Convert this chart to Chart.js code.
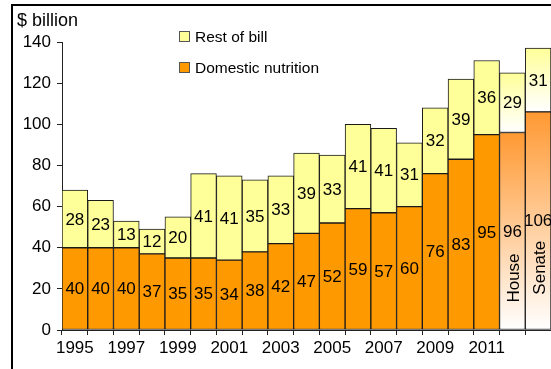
<!DOCTYPE html>
<html>
<head>
<meta charset="utf-8">
<script src="https://cdn.jsdelivr.net/npm/chart.js@4"></script>
<style>
  html, body { margin: 0; padding: 0; background: #fff; overflow: hidden; }
  #wrap { position: relative; width: 551px; height: 369px; }
  #frame { position: absolute; left: 11px; top: 4px; width: 600px; height: 400px;
           border: 2px solid #000; pointer-events: none; }
  #unit { position: absolute; left: 17px; top: 10px; font: 18px "Liberation Sans", Arial, sans-serif; color: #000; }
  .leg { position: absolute; left: 179px; font: 15.5px "Liberation Sans", Arial, sans-serif; color: #000; }
  .leg span { display: inline-block; width: 9px; height: 9px; border: 1px solid #555; margin-right: 5px; vertical-align: 0px; }
</style>
</head>
<body>
<div id="wrap">
  <canvas id="bill"></canvas>
  <div id="frame"></div>
  <div id="unit">$ billion</div>
  <div class="leg" id="legRest" style="top:28px"><span style="background:#FFFF99"></span>Rest of bill</div>
  <div class="leg" id="legDom" style="top:59px"><span style="background:#FF9900"></span>Domestic nutrition</div>
</div>
<script>
const years = ['1995', '1996', '1997', '1998', '1999', '2000', '2001', '2002', '2003',
               '2004', '2005', '2006', '2007', '2008', '2009', '2010', '2011'];
const proposals = ['House', 'Senate'];
const categories = years.concat(proposals);
const domesticNutrition = [40, 40, 40, 37, 35, 35, 34, 38, 42, 47, 52, 59, 57, 60, 76, 83, 95, 96, 106];
const restOfBill = [28, 23, 13, 12, 20, 41, 41, 35, 33, 39, 33, 41, 41, 31, 32, 39, 36, 29, 31];
const yTicks = [0, 20, 40, 60, 80, 100, 120, 140];

const FONT = '"Liberation Sans", Arial, sans-serif';

// proposal bars fade from a colour down to white
function segmentFill(solid, fadeFrom, lowVals, highVals) {
  return function(c) {
    const chart = c.chart;
    const i = c.dataIndex;
    if (i < years.length || !chart.chartArea || !chart.scales.y) return solid;
    const y = chart.scales.y;
    const lo = lowVals ? lowVals[i] : 0;
    const top = y.getPixelForValue(lo + highVals[i]);
    const bot = y.getPixelForValue(lo);
    const g = chart.ctx.createLinearGradient(0, top, 0, bot);
    g.addColorStop(0, fadeFrom);
    g.addColorStop(1, '#FFFFFF');
    return g;
  };
}

const valueLabels = {
  id: 'valueLabels',
  afterDatasetsDraw(chart) {
    const ctx = chart.ctx;
    ctx.save();
    ctx.fillStyle = '#000';
    ctx.font = '17px ' + FONT;
    ctx.textAlign = 'center';
    ctx.textBaseline = 'middle';
    chart.data.datasets.forEach((ds, di) => {
      const meta = chart.getDatasetMeta(di);
      meta.data.forEach((bar, i) => {
        const cy = (bar.y + bar.base) / 2;
        ctx.fillText(String(ds.data[i]), bar.x, cy + 1);
        if (di === 0 && i >= years.length) {
          ctx.save();
          ctx.translate(bar.x + 2, cy + 47);
          ctx.rotate(-Math.PI / 2);
          ctx.fillText(categories[i], 0, 0);
          ctx.restore();
        }
      });
    });
    ctx.restore();
  }
};

new Chart(document.getElementById('bill'), {
  type: 'bar',
  data: {
    labels: categories,
    datasets: [
      {
        label: 'Domestic nutrition',
        data: domesticNutrition,
        backgroundColor: segmentFill('#FF9900', '#FF9933', null, domesticNutrition),
        borderColor: '#1a1a1a',
        borderWidth: 1,
        borderSkipped: false,
        barPercentage: 1,
        categoryPercentage: 1
      },
      {
        label: 'Rest of bill',
        data: restOfBill,
        backgroundColor: segmentFill('#FFFF99', '#FFFF99', domesticNutrition, restOfBill),
        borderColor: '#1a1a1a',
        borderWidth: 1,
        borderSkipped: false,
        barPercentage: 1,
        categoryPercentage: 1
      }
    ]
  },
  options: {
    responsive: true,
    maintainAspectRatio: false,
    animation: false,
    layout: { padding: { top: 42, left: 0, right: 0, bottom: 0 } },
    plugins: { legend: { display: false }, tooltip: { enabled: false } },
    scales: {
      x: {
        stacked: true,
        afterFit(s) { s.height = 39; },
        grid: { offset: true, drawOnChartArea: false, tickLength: 5, color: '#222' },
        border: { color: '#222', width: 1 },
        ticks: {
          autoSkip: false,
          maxRotation: 0,
          padding: 3,
          color: '#000',
          font: { family: FONT, size: 17 },
          callback: (v, i) => (i < years.length && i % 2 === 0) ? categories[i] : ''
        }
      },
      y: {
        stacked: true,
        min: 0,
        max: 140,
        afterFit(s) { s.width = 62; },
        afterBuildTicks(s) { s.ticks = yTicks.map(v => ({ value: v })); },
        grid: { drawOnChartArea: false, tickLength: 5, color: '#222' },
        border: { color: '#222', width: 1 },
        ticks: { padding: 6, color: '#000', font: { family: FONT, size: 17 } }
      }
    }
  },
  plugins: [valueLabels]
});
</script>
</body>
</html>
